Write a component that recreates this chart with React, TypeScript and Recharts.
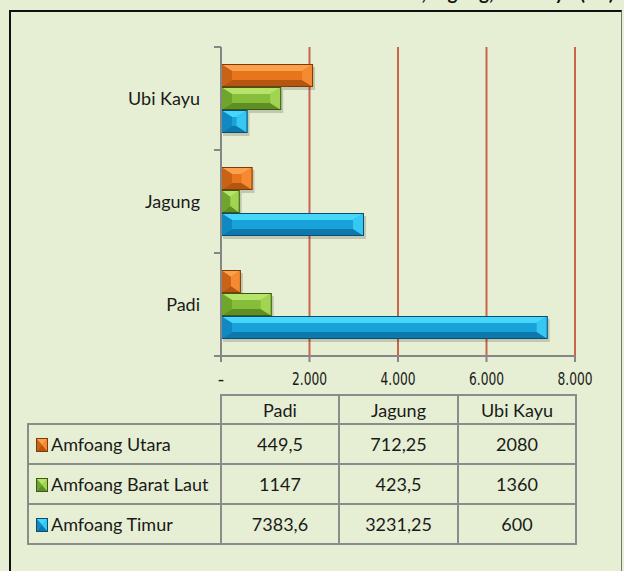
import React from 'react';
import { BarChart, Bar, XAxis, YAxis, CartesianGrid } from 'recharts';

const categories = ['Padi', 'Jagung', 'Ubi Kayu'];
const seriesNames = ['Amfoang Utara', 'Amfoang Barat Laut', 'Amfoang Timur'];
const amfoangUtara = [449.5, 712.25, 2080];
const amfoangBaratLaut = [1147, 423.5, 1360];
const amfoangTimur = [7383.6, 3231.25, 600];
const xTicks = [0, 2000, 4000, 6000, 8000];

const seriesKeys = ['utara', 'barat', 'timur'];
const seriesValues = [amfoangUtara, amfoangBaratLaut, amfoangTimur];

const palette: Record<string, { main: string; light: string; dark: string; left: string; right: string; border: string }> = {
  utara: { main: '#E8741C', light: '#FBA04C', dark: '#B4560F', left: '#C86214', right: '#F58A32', border: '#7E3A08' },
  barat: { main: '#86BE3A', light: '#B6E46A', dark: '#5F8F24', left: '#6FA52C', right: '#A2D454', border: '#3A5A12' },
  timur: { main: '#17A3DA', light: '#45D6F8', dark: '#0E78AC', left: '#1089C2', right: '#36C8F2', border: '#0A4C72' },
};

// Ubi Kayu sits on top in the chart, so feed the rows reversed
const chartData = categories
  .map((name, i) => ({
    name,
    utara: amfoangUtara[i],
    barat: amfoangBaratLaut[i],
    timur: amfoangTimur[i],
  }))
  .reverse();

const fmtCell = (v: number) => String(v).replace('.', ',');
const fmtTick = (v: number) => (v === 0 ? '-' : v.toLocaleString('de-DE'));

function bevel(x: number, y: number, w: number, h: number, c: typeof palette.utara, shadow = true) {
  const bx = Math.min(11, w / 2);
  const by = Math.min(7, h / 2);
  return (
    <g>
      {shadow && <rect x={x + 2} y={y + 3} width={w} height={h} fill="rgba(0,0,0,0.16)" />}
      <rect x={x} y={y} width={w} height={h} fill={c.main} />
      <polygon points={`${x},${y} ${x + w},${y} ${x + w - bx},${y + by} ${x + bx},${y + by}`} fill={c.light} />
      <polygon points={`${x},${y + h} ${x + w},${y + h} ${x + w - bx},${y + h - by} ${x + bx},${y + h - by}`} fill={c.dark} />
      <polygon points={`${x},${y} ${x + bx},${y + by} ${x + bx},${y + h - by} ${x},${y + h}`} fill={c.left} />
      <polygon points={`${x + w},${y} ${x + w - bx},${y + by} ${x + w - bx},${y + h - by} ${x + w},${y + h}`} fill={c.right} />
      <rect x={x + 0.5} y={y + 0.5} width={Math.max(w - 1, 0)} height={Math.max(h - 1, 0)} fill="none" stroke={c.border} strokeWidth={1} />
    </g>
  );
}

const BevelBar = (props: any) => {
  const { x, y, width, height, dataKey } = props;
  if (!width || width <= 0) return null;
  return bevel(x, y, width, height, palette[dataKey]);
};

const CatTick = (props: any) => {
  const { x, y, payload } = props;
  const half = payload.offset || 51;
  const axisX = x + 7;
  return (
    <g>
      <line x1={axisX - 7} x2={axisX} y1={y - half} y2={y - half} stroke="#868686" strokeWidth={2} />
      <line x1={axisX - 7} x2={axisX} y1={y + half} y2={y + half} stroke="#868686" strokeWidth={2} />
      <text x={axisX - 21} y={y} dy="0.35em" textAnchor="end" fontFamily="Lato" fontSize={18} fill="#1a1a1a">
        {payload.value}
      </text>
    </g>
  );
};

// narrow numerals like the original condensed face
const NumTick = (props: any) => {
  const { x, y, payload } = props;
  const label = fmtTick(payload.value);
  const squeeze = label.length > 1 ? { textLength: label.length * 7, lengthAdjust: 'spacingAndGlyphs' as const } : {};
  return (
    <text x={x} y={y} dy={13} textAnchor="middle" fontFamily="DejaVu Sans" fontSize={18} fill="#1a1a1a" {...squeeze}>
      {label}
    </text>
  );
};

const cell: React.CSSProperties = {
  border: '2px solid #8C8C8C',
  textAlign: 'center',
  padding: 0,
  fontFamily: 'Lato',
  fontSize: 18,
  color: '#1a1a1a',
};

export default function App() {
  return (
    <div style={{ position: 'fixed', left: 0, top: 0, width: 624, height: 571, background: '#E6EFD4', overflow: 'hidden' }}>
      <div
        style={{
          position: 'absolute',
          right: 10,
          top: -19,
          fontFamily: 'Lato',
          fontWeight: 'bold',
          fontSize: 19,
          color: '#111',
          whiteSpace: 'nowrap',
        }}
      >
        Luas Panen Padi, Jagung, Ubi Kayu (Ha)
      </div>
      <div
        style={{
          position: 'absolute',
          left: 9,
          top: 10,
          width: 610,
          height: 620,
          borderLeft: '2px solid #111',
          borderTop: '2px solid #111',
          borderRight: '1px solid #777',
        }}
      />
      <div style={{ position: 'absolute', left: 0, top: 0 }}>
        <BarChart
          width={624}
          height={571}
          data={chartData}
          layout="vertical"
          margin={{ top: 47, right: 49, bottom: 185, left: 0 }}
          barSize={23}
          barGap={0}
        >
          <CartesianGrid horizontal={false} stroke="#C8664A" strokeWidth={2} />
          <XAxis
            type="number"
            domain={[0, 8000]}
            ticks={xTicks}
            height={30}
            axisLine={{ stroke: '#868686', strokeWidth: 2 }}
            tickLine={{ stroke: '#868686', strokeWidth: 2 }}
            tickSize={6}
            tickMargin={10}
            tick={<NumTick />}
          />
          <YAxis
            type="category"
            dataKey="name"
            width={221}
            axisLine={{ stroke: '#868686', strokeWidth: 2 }}
            tickLine={false}
            tickSize={7}
            tickMargin={0}
            tick={<CatTick />}
          />
          {seriesKeys.map((k, i) => (
            <Bar key={k} dataKey={k} name={seriesNames[i]} fill={palette[k].main} shape={<BevelBar />} isAnimationActive={false} />
          ))}
        </BarChart>
      </div>
      <table
        style={{
          position: 'absolute',
          left: 27,
          top: 394,
          borderCollapse: 'collapse',
          tableLayout: 'fixed',
        }}
      >
        <colgroup>
          <col style={{ width: 193 }} />
          <col style={{ width: 118 }} />
          <col style={{ width: 119 }} />
          <col style={{ width: 118 }} />
        </colgroup>
        <tbody>
          <tr style={{ height: 29 }}>
            <td style={{ border: 'none' }} />
            {categories.map((c) => (
              <td key={c} style={cell}>{c}</td>
            ))}
          </tr>
          {seriesKeys.map((k, i) => (
            <tr key={k} style={{ height: 40 }}>
              <td style={{ ...cell, textAlign: 'left', whiteSpace: 'nowrap' }}>
                <svg width={16} height={14} style={{ verticalAlign: '-1px', marginLeft: 6 }}>
                  {bevel(1, 0, 12, 14, palette[k], false)}
                </svg>
                {seriesNames[i]}
              </td>
              {seriesValues[i].map((v, j) => (
                <td key={j} style={cell}>{fmtCell(v)}</td>
              ))}
            </tr>
          ))}
        </tbody>
      </table>
    </div>
  );
}
